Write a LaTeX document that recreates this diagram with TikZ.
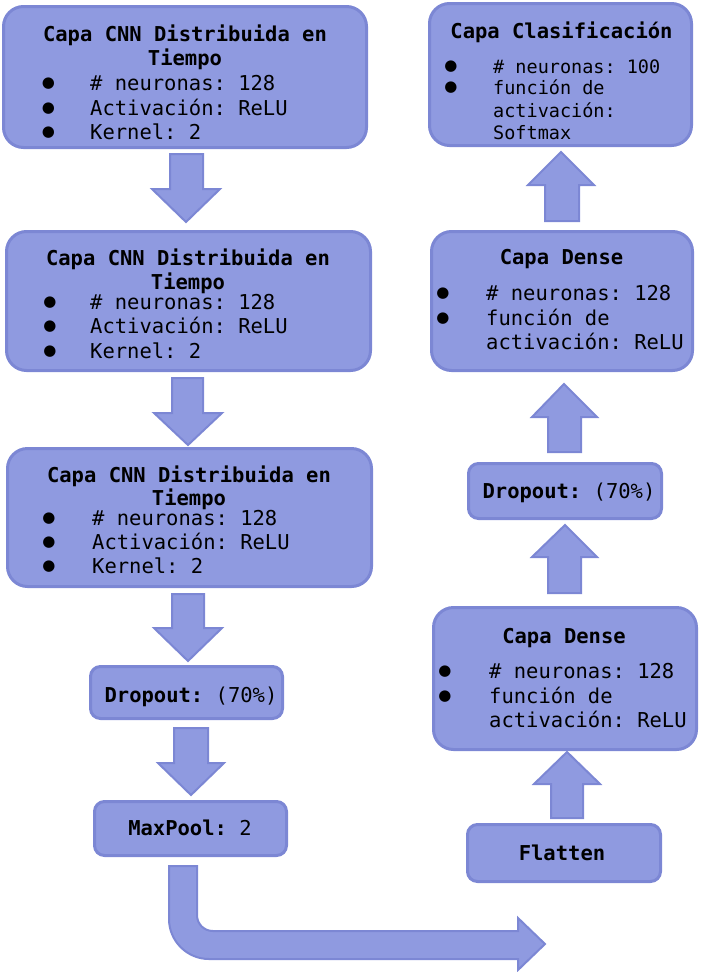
\documentclass[tikz,border=0pt]{standalone}
\usepackage{fontspec}
\setmonofont{DejaVu Sans Mono}
\newfontfamily\bulfont{DejaVu Sans}
\definecolor{boxfill}{HTML}{8F9AE0}
\definecolor{boxline}{HTML}{7C87D4}
\begin{document}
\begin{tikzpicture}[x=1pt,y=-1pt,
  box/.style={draw=boxline, fill=boxfill, line width=3pt, rounded corners=20pt, inner sep=0pt},
  sbox/.style={box, rounded corners=10pt},
  blk/.style={draw=boxline, fill=boxfill, line width=2pt, line join=miter},
  ttl/.style={font=\fontsize{20.5}{24}\selectfont\ttfamily\bfseries, inner sep=0pt, anchor=base},
  txt/.style={font=\fontsize{20.5}{24}\selectfont\ttfamily, inner sep=0pt, anchor=base west},
  stxt/.style={font=\fontsize{18.5}{22}\selectfont\ttfamily, inner sep=0pt, anchor=base west},
  bul/.style={font=\fontsize{15}{16}\selectfont\bulfont, inner sep=0pt, anchor=base, yshift=3pt},
]
\useasboundingbox (0,0) rectangle (712,972);

% ---------- boxes ----------
\node[box, minimum width=363pt, minimum height=141pt] (b1) at (185,77) {};
\node[box, minimum width=364pt, minimum height=139pt] (b2) at (188.5,301) {};
\node[box, minimum width=364pt, minimum height=138pt] (b3) at (189.5,517.5) {};
\node[sbox, minimum width=192pt, minimum height=52pt] (dl) at (186.5,692.5) {};
\node[sbox, minimum width=192pt, minimum height=54pt] (mp) at (190.5,828.5) {};
\node[sbox, minimum width=193pt, minimum height=57pt] (fl) at (564,853) {};
\node[box, minimum width=263pt, minimum height=142pt] (d1) at (565,678.5) {};
\node[sbox, minimum width=193pt, minimum height=55pt] (dr) at (565,491) {};
\node[box, minimum width=261pt, minimum height=139pt] (d2) at (562,301) {};
\node[box, minimum width=262pt, minimum height=142pt] (cl) at (560.5,74.5) {};

% ---------- block arrows ----------
\draw[blk] (170,154) -- (203,154) -- (203,189) -- (220,189) -- (186,222) -- (152,189) -- (170,189) -- cycle;
\draw[blk] (172,378) -- (203,378) -- (203,413) -- (222,413) -- (188,445) -- (154,413) -- (172,413) -- cycle;
\draw[blk] (172,594) -- (204,594) -- (204,628) -- (222,628) -- (188,661) -- (154,628) -- (172,628) -- cycle;
\draw[blk] (174,728) -- (208,728) -- (208,763) -- (224,763) -- (191,795) -- (158,763) -- (174,763) -- cycle;

\draw[blk] (551,818) -- (583,818) -- (583,784) -- (600,784) -- (567,752) -- (534,784) -- (551,784) -- cycle;
\draw[blk] (548,593) -- (581,593) -- (581,557) -- (597,557) -- (565,525) -- (532,557) -- (548,557) -- cycle;
\draw[blk] (548,452) -- (581,452) -- (581,417) -- (597,417) -- (564,384) -- (532,417) -- (548,417) -- cycle;
\draw[blk] (545,221) -- (579,221) -- (579,185) -- (594,185) -- (561,152) -- (528,185) -- (545,185) -- cycle;

\draw[blk] (169,866) -- (197,866) -- (197,915) .. controls (197,924) and (204,931) .. (213,931)
  -- (518,931) -- (518,918) -- (545,944) -- (518,970) -- (518,959) -- (209,959)
  .. controls (187,959) and (169,941) .. (169,919) -- cycle;

% ---------- box 1 ----------
\node[ttl] (b1t1) at (185,41) {Capa CNN Distribuida en};
\node[ttl] (b1t2) at (185,65) {Tiempo};
\node[bul] (b1b1) at (48.5,90) {●};
\node[bul] (b1b2) at (48.5,115) {●};
\node[bul] (b1b3) at (48.5,139) {●};
\node[txt] (b1l1) at (90,90) {\# neuronas: 128};
\node[txt] (b1l2) at (90,115) {Activación: ReLU};
\node[txt] (b1l3) at (90,139) {Kernel: 2};

% ---------- box 2 ----------
\node[ttl] (b2t1) at (188,265) {Capa CNN Distribuida en};
\node[ttl] (b2t2) at (188,289) {Tiempo};
\node[bul] (b2b1) at (50,309) {●};
\node[bul] (b2b2) at (50,333) {●};
\node[bul] (b2b3) at (50,358) {●};
\node[txt] (b2l1) at (90,309) {\# neuronas: 128};
\node[txt] (b2l2) at (90,333) {Activación: ReLU};
\node[txt] (b2l3) at (90,358) {Kernel: 2};

% ---------- box 3 ----------
\node[ttl] (b3t1) at (189,482) {Capa CNN Distribuida en};
\node[ttl] (b3t2) at (189,505) {Tiempo};
\node[bul] (b3b1) at (49,525) {●};
\node[bul] (b3b2) at (49,549) {●};
\node[bul] (b3b3) at (49,573) {●};
\node[txt] (b3l1) at (92,525) {\# neuronas: 128};
\node[txt] (b3l2) at (92,549) {Activación: ReLU};
\node[txt] (b3l3) at (92,573) {Kernel: 2};

% ---------- left small boxes ----------
\node[ttl] (dlt) at (191,702) {Dropout:\mdseries\ (70\%)};
\node[ttl] (mpt) at (190,835) {MaxPool:\mdseries\ 2};

% ---------- right column ----------
\node[ttl] (clt) at (561.5,38) {Capa Clasificación};
\node[bul] (clb1) at (451,73) {●};
\node[bul] (clb2) at (451,94) {●};
\node[stxt] (cll1) at (493,73) {\# neuronas: 100};
\node[stxt] (cll2) at (493,94) {función de};
\node[stxt] (cll3) at (493,117) {activación:};
\node[stxt] (cll4) at (493,139) {Softmax};

\node[ttl] (d2t) at (561.5,264) {Capa Dense};
\node[bul] (d2b1) at (443,300) {●};
\node[bul] (d2b2) at (443,325) {●};
\node[txt] (d2l1) at (486,300) {\# neuronas: 128};
\node[txt] (d2l2) at (486,325) {función de};
\node[txt] (d2l3) at (486,349) {activación: ReLU};

\node[ttl] (drt) at (569,498) {Dropout:\mdseries\ (70\%)};

\node[ttl] (d1t) at (564,643) {Capa Dense};
\node[bul] (d1b1) at (445,678) {●};
\node[bul] (d1b2) at (445,703) {●};
\node[txt] (d1l1) at (489,678) {\# neuronas: 128};
\node[txt] (d1l2) at (489,703) {función de};
\node[txt] (d1l3) at (489,727) {activación: ReLU};

\node[ttl] (flt) at (562,860) {Flatten};
\end{tikzpicture}
\end{document}
